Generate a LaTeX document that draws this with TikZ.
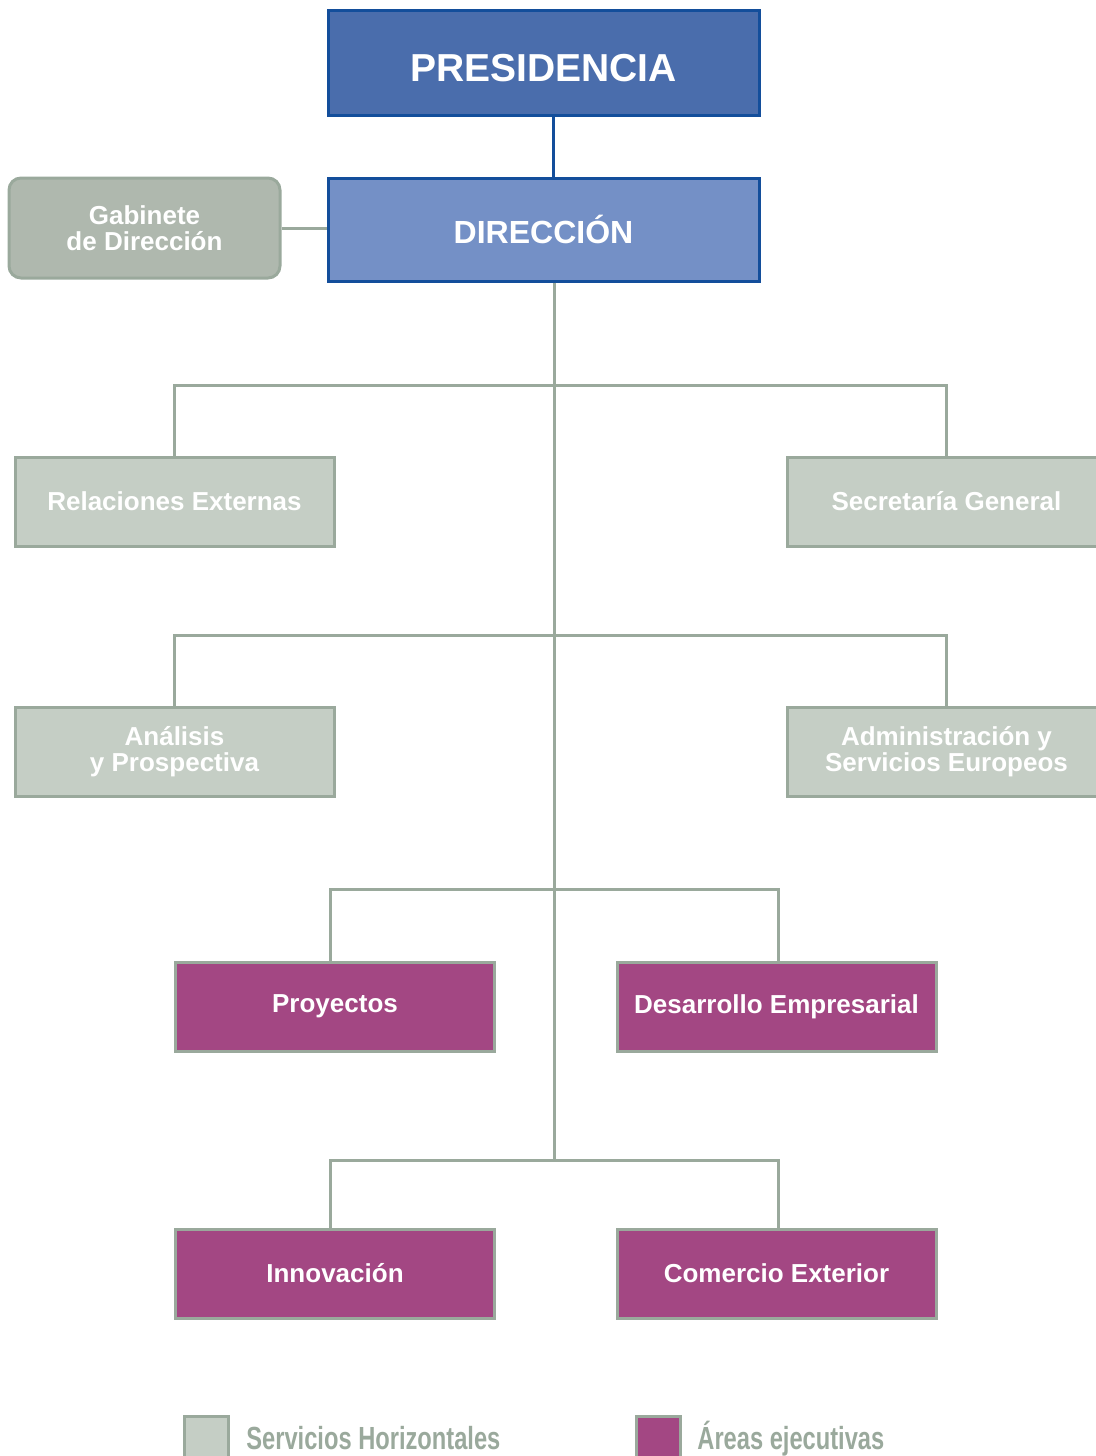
\documentclass[tikz,border=0pt]{standalone}
\usepackage{fontspec}
\setmainfont{Liberation Sans}
\newfontfamily\legendfont[FakeStretch=0.74]{Liberation Sans}
\usepackage{tikz}
\usetikzlibrary{positioning,calc}
\definecolor{presblue}{HTML}{4A6DAC}
\definecolor{dirblue}{HTML}{7490C6}
\definecolor{edgeblue}{HTML}{134E9B}
\definecolor{gabgray}{HTML}{AFB8AE}
\definecolor{horizgray}{HTML}{C5CEC5}
\definecolor{edgegray}{HTML}{9AA99C}
\definecolor{areamag}{HTML}{A34783}

\begin{document}
\begin{tikzpicture}[x=0.5pt, y=-0.5pt,
    head/.style={draw=edgeblue, line width=1.5pt, minimum width=215.5pt, text=white, font=\bfseries},
    unit/.style={draw=edgegray, line width=1.5pt, minimum width=159.5pt, minimum height=44.5pt, text=white, align=center, font=\bfseries\fontsize{13}{13}\selectfont},
    serv/.style={unit, fill=horizgray},
    area/.style={unit, fill=areamag},
    link/.style={edgegray, line width=1.5pt},
    key/.style={draw=edgegray, line width=1.5pt, minimum width=22pt, minimum height=24pt, inner sep=0pt},
    keytext/.style={anchor=base west, inner sep=0pt, text=edgegray, font=\legendfont\bfseries\fontsize{16}{16}\selectfont}
]
    \useasboundingbox (0,0) rectangle (1096,1456);
    \clip (0,0) rectangle (1096,1456);

    % Top: Presidencia and Direccion
    \node[head, fill=presblue, minimum height=52.5pt, text height=19pt, text depth=0pt, font=\bfseries\fontsize{19.5}{19.5}\selectfont] (pres) at (543.5,62.5) {PRESIDENCIA};
    \node[head, fill=dirblue, minimum height=51.5pt, font=\bfseries\fontsize{16}{16}\selectfont] (dir) at (543.5,229.5) {DIRECCIÓN};
    \node[draw=edgegray, fill=gabgray, line width=1.5pt, rounded corners=6pt, minimum width=135.5pt, minimum height=50pt, text=white, align=center, font=\bfseries\fontsize{13}{13}\selectfont] (gab) at (144.5,228) {Gabinete\\de Dirección};

    % Servicios horizontales
    \node[serv] (rel) at (174.5,501.5) {Relaciones Externas};
    \node[serv] (sec) at (946.5,501.5) {Secretaría General};
    \node[serv] (ana) at (174.5,751.5) {Análisis\\y Prospectiva};
    \node[serv] (adm) at (946.5,751.5) {Administración y\\Servicios Europeos};

    % Areas ejecutivas
    \node[area] (proy) at (335,1006.5) {Proyectos};
    \node[area] (des) at (776.5,1006.5) {Desarrollo Empresarial};
    \node[area] (inn) at (335,1273.5) {Innovación};
    \node[area] (com) at (776.5,1273.5) {Comercio Exterior};

    % Connectors
    \coordinate (b1) at (554,385);
    \coordinate (b2) at (554,635);
    \coordinate (b3) at (554,889);
    \coordinate (b4) at (554,1160);
    \coordinate (top) at (dir.south -| b1);
    \draw[edgeblue, line width=1.5pt] ([xshift=4.75pt]pres.south) -- ([xshift=4.75pt]dir.north);
    \draw[link] (gab.east) -- (gab.east -| dir.west);
    \draw[link] (top) -- (b4);
    \draw[link] (rel.north) |- (b1) -| (sec.north);
    \draw[link] (ana.north) |- (b2) -| (adm.north);
    \draw[link] ([xshift=-2.5pt]proy.north) |- (b3) -| ([xshift=0.75pt]des.north);
    \draw[link] ([xshift=-2.5pt]inn.north) |- (b4) -| ([xshift=0.75pt]com.north);

    % Legend
    \node[key, fill=horizgray] (k1) at (206.5,1440) {};
    \node[key, fill=areamag] (k2) at (658,1440) {};
    \node[keytext] (t1) at (246,1449) {Servicios Horizontales};
    \node[keytext] (t2) at (697,1449) {Áreas ejecutivas};
\end{tikzpicture}
\end{document}
